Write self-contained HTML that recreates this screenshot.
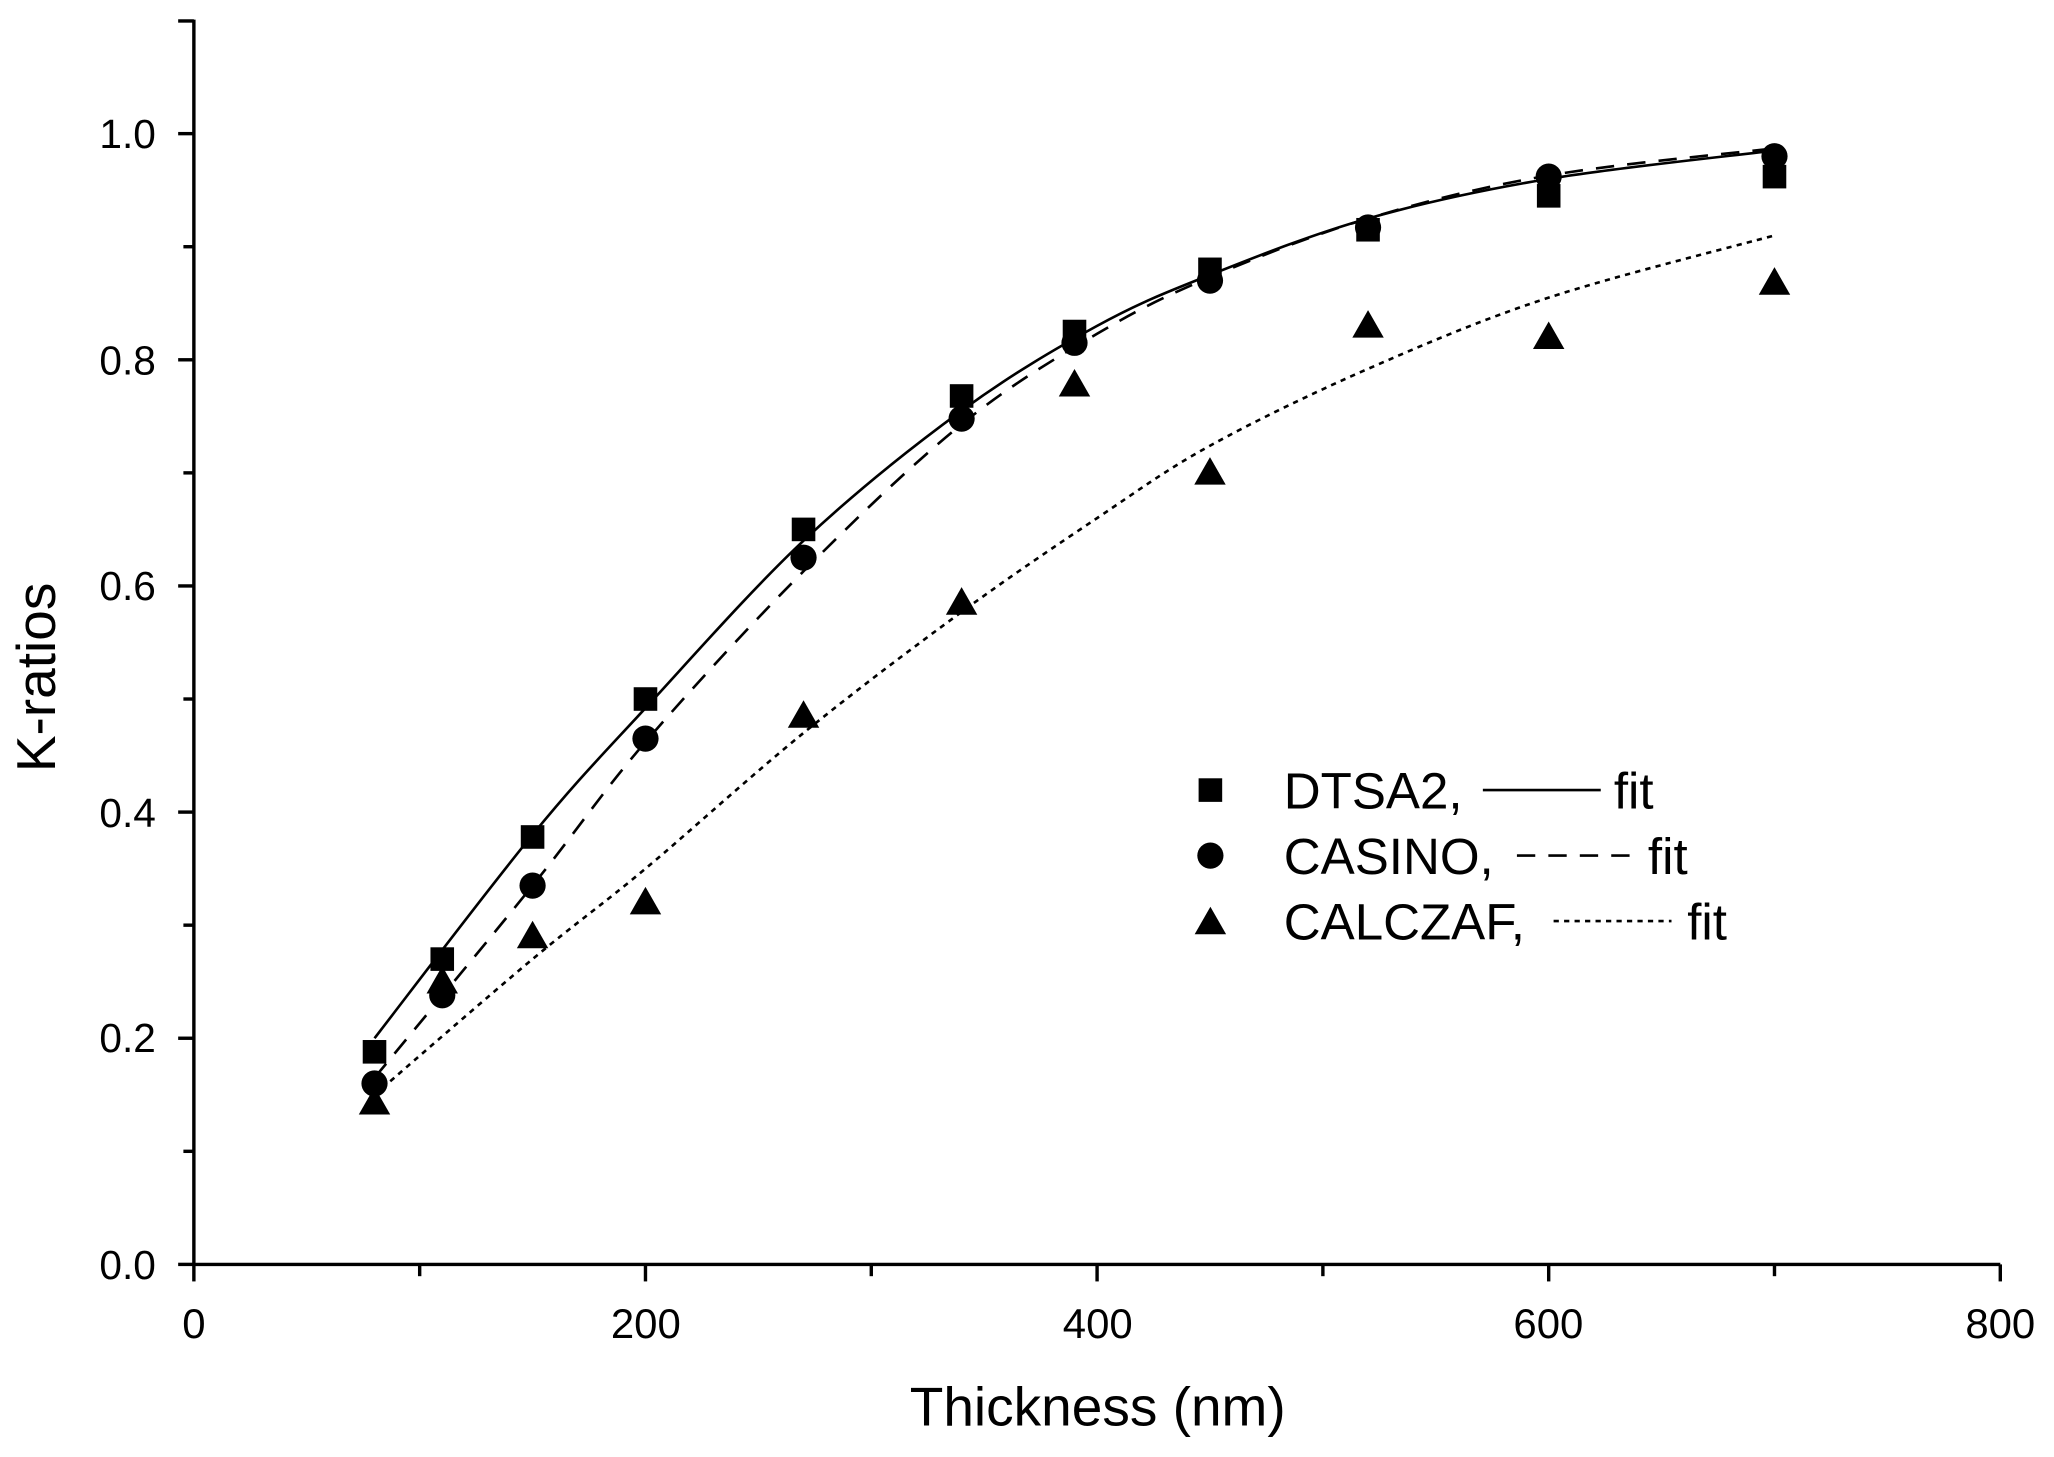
<!DOCTYPE html>
<html><head><meta charset="utf-8"><style>
html,body{margin:0;padding:0;background:#fff}
svg{display:block}
text{font-family:"Liberation Sans",Arial,sans-serif;fill:#000}
</style></head><body>
<svg id="s" width="2054" height="1457" viewBox="0 0 1568 1112" preserveAspectRatio="none" xmlns="http://www.w3.org/2000/svg">
<rect width="1568" height="1112" fill="#fff"/>
<g id="axes" stroke="#000" stroke-width="2.6" fill="none"></g>
<g font-size="31" text-anchor="end">
<text x="119" y="976">0.0</text><text x="119" y="803">0.2</text><text x="119" y="631">0.4</text>
<text x="119" y="458">0.6</text><text x="119" y="286">0.8</text><text x="119" y="113">1.0</text>
</g>
<g font-size="32" text-anchor="middle">
<text x="148" y="1021">0</text><text x="493" y="1021">200</text><text x="838" y="1021">400</text>
<text x="1182" y="1021">600</text><text x="1527" y="1021">800</text>
</g>
<text x="838" y="1088" font-size="42" text-anchor="middle">Thickness (nm)</text>
<text transform="translate(42,517) rotate(-90)" font-size="42" text-anchor="middle">K-ratios</text>
<g id="data"></g>
<g font-size="39">
<rect x="915" y="594" width="18" height="18" fill="#000"/>
<text x="980" y="617">DTSA2,</text>
<line x1="1132" y1="603" x2="1222" y2="603" stroke="#000" stroke-width="2"/>
<text x="1232" y="617">fit</text>
<circle cx="924" cy="653" r="10" fill="#000"/>
<text x="980" y="667">CASINO,</text>
<line x1="1158" y1="653" x2="1246" y2="653" stroke="#000" stroke-width="2" stroke-dasharray="14,10"/>
<text x="1258" y="667">fit</text>
<polygon points="924,692 936,713 912,713" fill="#000"/>
<text x="980" y="717">CALCZAF,</text>
<line x1="1186" y1="703" x2="1276" y2="703" stroke="#000" stroke-width="2" stroke-dasharray="4,4"/>
<text x="1288" y="717">fit</text>
</g>
</svg>
<script>
var X=function(v){return 148+v*1.72375},Y=function(v){return 965-v*863};
var ns="http://www.w3.org/2000/svg";
function el(p,t,a){var e=document.createElementNS(ns,t);for(var k in a)e.setAttribute(k,a[k]);p.appendChild(e);return e;}
var ax=document.getElementById('axes');
el(ax,'line',{x1:148,y1:15,x2:148,y2:966});
el(ax,'line',{x1:147,y1:965,x2:1527,y2:965});
el(ax,'line',{x1:136,y1:16,x2:148,y2:16});
for(var i=0;i<=8;i++){var x=X(i*100);el(ax,'line',{x1:x,y1:965,x2:x,y2:i%2?974:978});}
for(var i=0;i<=10;i++){var y=Y(i*0.1);el(ax,'line',{x1:i%2?140:136,y1:y,x2:148,y2:y});}
var d=document.getElementById('data');
function curve(pts,dash){
 var P=pts.map(function(p){return [X(p[0]),Y(p[1])]});var s='M'+P[0];
 for(var i=0;i<P.length-1;i++){var p0=P[i-1]||P[i],p1=P[i],p2=P[i+1],p3=P[i+2]||p2;
  s+=' C'+(p1[0]+(p2[0]-p0[0])/6)+','+(p1[1]+(p2[1]-p0[1])/6)+' '+(p2[0]-(p3[0]-p1[0])/6)+','+(p2[1]-(p3[1]-p1[1])/6)+' '+p2;}
 var a={d:s,fill:'none',stroke:'#000','stroke-width':2};if(dash)a['stroke-dasharray']=dash;el(d,'path',a);}
curve([[80,.2],[150,.38],[200,.492],[270,.64],[340,.755],[400,.83],[450,.875],[520,.925],[600,.96],[700,.985]]);
curve([[80,.165],[150,.335],[200,.462],[270,.613],[340,.743],[400,.823],[450,.873],[520,.925],[600,.963],[700,.987]],'14,10');
curve([[80,.15],[150,.27],[200,.35],[270,.47],[340,.577],[400,.66],[450,.724],[520,.792],[600,.855],[700,.91]],'4,4');
var xs=[80,110,150,200,270,340,390,450,520,600,700];
var sq=[.188,.27,.378,.50,.65,.768,.825,.88,.915,.945,.962];
var ci=[.16,.238,.335,.465,.625,.748,.815,.87,.917,.962,.98];
var tr=[.143,.25,.29,.32,.485,.585,.778,.70,.83,.82,.868];
xs.forEach(function(v,i){var x=X(v);
 var y=Y(sq[i]);el(d,'rect',{x:x-9,y:y-9,width:18,height:18,fill:'#000'});
 y=Y(ci[i]);el(d,'circle',{cx:x,cy:y,r:10,fill:'#000'});
 y=Y(tr[i]);el(d,'polygon',{points:x+','+(y-12)+' '+(x+12)+','+(y+9)+' '+(x-12)+','+(y+9),fill:'#000'});
});
</script>
</body></html>
